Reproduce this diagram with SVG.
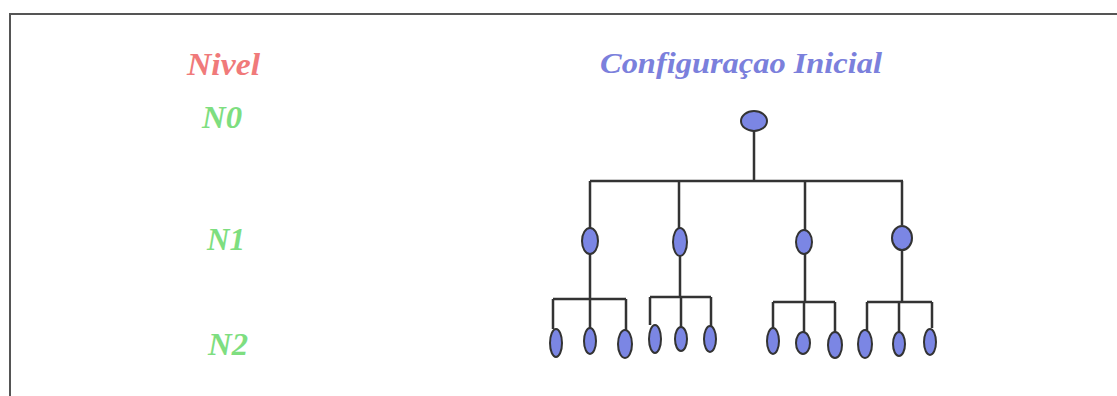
<svg xmlns="http://www.w3.org/2000/svg" width="1117" height="396" viewBox="0 0 1117 396">
<style>
.frame{stroke:#555;stroke-width:2;fill:none}
.lbl{font-family:"Liberation Serif","DejaVu Serif",serif;font-style:italic;font-weight:bold}
.lvl{fill:#7ede80;font-size:31px}
.nd{fill:#7b86e4;stroke:#333;stroke-width:2}
.cn{stroke:#333;stroke-width:2.5;fill:none}
</style>
<rect width="1117" height="396" fill="#fff"/>
<path class="frame" d="M10 396 V14 H1117"/>
<g id="header">
<text class="lbl" x="187" y="75" font-size="31" fill="#f07a7a" textLength="73" lengthAdjust="spacingAndGlyphs">Nivel</text>
<text class="lbl" x="600" y="73" font-size="29" fill="#7b80dc" textLength="282" lengthAdjust="spacingAndGlyphs">Configuraçao Inicial</text>
</g>
<g id="levels">
<text class="lbl lvl" x="202" y="128" textLength="40" lengthAdjust="spacingAndGlyphs">N0</text>
<text class="lbl lvl" x="207" y="250" textLength="38" lengthAdjust="spacingAndGlyphs">N1</text>
<text class="lbl lvl" x="208" y="355" textLength="40" lengthAdjust="spacingAndGlyphs">N2</text>
</g>
<g id="connectors" class="cn">
<path d="M754 130 V181 M590 181 H903 M590 181 V228 M679 181 V228 M805 181 V230 M902 181 V225"/>
<path d="M590 254 V299 M553 299 H626 M553 299 V329 M590 299 V328 M626 299 V330"/>
<path d="M680 256 V297 M650 297 H711 M650 297 V325 M681 297 V327 M711 297 V326"/>
<path d="M805 254 V302 M773 302 H835 M773 302 V328 M804 302 V332 M835 302 V332"/>
<path d="M902 251 V302 M867 302 H932 M867 302 V330 M899 302 V332 M932 302 V328"/>
</g>
<g id="root"><ellipse class="nd" cx="754" cy="121" rx="13" ry="10"/></g>
<g id="n1a"><ellipse class="nd" cx="590" cy="241" rx="8" ry="13"/></g>
<g id="n1b"><ellipse class="nd" cx="680" cy="242" rx="7" ry="14"/></g>
<g id="n1c"><ellipse class="nd" cx="804" cy="242" rx="8" ry="12"/></g>
<g id="n1d"><ellipse class="nd" cx="902" cy="238" rx="10" ry="12"/></g>
<g id="n2a1"><ellipse class="nd" cx="556" cy="343" rx="6" ry="14"/></g>
<g id="n2a2"><ellipse class="nd" cx="590" cy="341" rx="6" ry="13"/></g>
<g id="n2a3"><ellipse class="nd" cx="625" cy="344" rx="7" ry="14"/></g>
<g id="n2b1"><ellipse class="nd" cx="655" cy="339" rx="6" ry="14"/></g>
<g id="n2b2"><ellipse class="nd" cx="681" cy="339" rx="6" ry="12"/></g>
<g id="n2b3"><ellipse class="nd" cx="710" cy="339" rx="6" ry="13"/></g>
<g id="n2c1"><ellipse class="nd" cx="773" cy="341" rx="6" ry="13"/></g>
<g id="n2c2"><ellipse class="nd" cx="803" cy="343" rx="7" ry="11"/></g>
<g id="n2c3"><ellipse class="nd" cx="835" cy="345" rx="7" ry="13"/></g>
<g id="n2d1"><ellipse class="nd" cx="865" cy="344" rx="7" ry="14"/></g>
<g id="n2d2"><ellipse class="nd" cx="899" cy="344" rx="6" ry="12"/></g>
<g id="n2d3"><ellipse class="nd" cx="930" cy="342" rx="6" ry="13"/></g>
</svg>
